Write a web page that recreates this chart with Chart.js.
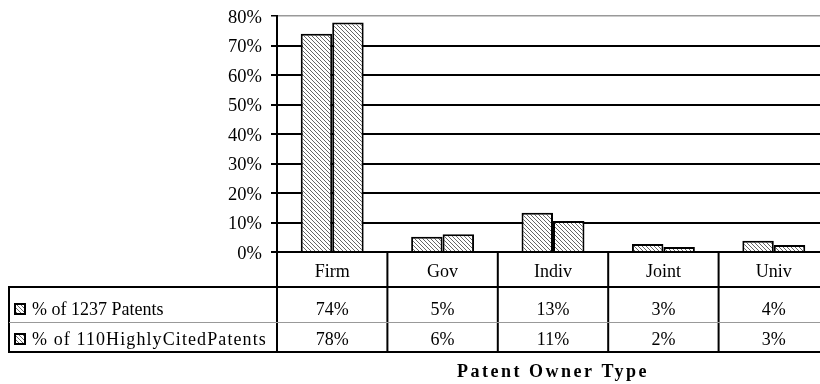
<!DOCTYPE html>
<html lang="en">
<head>
    <meta charset="UTF-8">
    <title>Patent Owner Type</title>
    <script src="https://cdn.jsdelivr.net/npm/chart.js"></script>
    <style>
        html, body { margin: 0; padding: 0; background: #fff; overflow: hidden; }
        #wrap { width: 830px; height: 384px; }
    </style>
</head>
<body>
    <div id="wrap"><canvas id="ownerChart" width="830" height="384"></canvas></div>

    <script>
        // values (percent)
        const categories = ['Firm', 'Gov', 'Indiv', 'Joint', 'Univ'];
        const allPatents = [74.0, 5.2, 13.3, 2.7, 3.8];
        const citedPatents = [77.8, 6.0, 10.5, 1.7, 2.4];
        const allLabels = ['74%', '5%', '13%', '3%', '4%'];
        const citedLabels = ['78%', '6%', '11%', '2%', '3%'];
        const seriesNames = ['% of 1237 Patents', '% of 110HighlyCitedPatents'];
        const axisTitle = 'Patent Owner Type';

        const serif = '"Liberation Serif", "DejaVu Serif", serif';

        function makeHatch() {
            const c = document.createElement('canvas');
            c.width = 4; c.height = 4;
            const g = c.getContext('2d');
            g.fillStyle = '#fff';
            g.fillRect(0, 0, 4, 4);
            g.strokeStyle = '#555';
            g.lineWidth = 0.9;
            g.beginPath();
            g.moveTo(-1, -1); g.lineTo(5, 5);
            g.moveTo(-1, 3); g.lineTo(1, 5);
            g.moveTo(3, -1); g.lineTo(5, 1);
            g.stroke();
            return g.createPattern(c, 'repeat');
        }
        const hatch = makeHatch();

        // data table under the plot, drawn from the x scale
        const dataTable = {
            id: 'dataTable',
            afterDraw(chart) {
                const ctx = chart.ctx;
                const area = chart.chartArea;
                const x = chart.scales.x;
                const catW = (area.right - area.left) / categories.length;
                const top = area.bottom;
                const row1 = top + 35, row2 = top + 70, bottom = top + 100;
                const tableLeft = 9;

                ctx.save();
                ctx.strokeStyle = '#000';
                ctx.lineWidth = 2;
                ctx.beginPath();
                for (let i = 0; i <= categories.length; i++) {
                    const lx = area.left + i * catW;
                    ctx.moveTo(lx, top); ctx.lineTo(lx, bottom);
                }
                ctx.moveTo(tableLeft, row1 - 1); ctx.lineTo(tableLeft, bottom + 1);
                ctx.moveTo(tableLeft, row1); ctx.lineTo(area.right, row1);
                ctx.moveTo(tableLeft, bottom); ctx.lineTo(area.right, bottom);
                ctx.stroke();

                ctx.strokeStyle = '#999';
                ctx.lineWidth = 1;
                ctx.beginPath();
                ctx.moveTo(tableLeft, row2 + 0.5); ctx.lineTo(area.right, row2 + 0.5);
                ctx.stroke();

                ctx.fillStyle = '#000';
                ctx.font = '18px ' + serif;
                ctx.textAlign = 'center';
                ctx.textBaseline = 'alphabetic';
                categories.forEach((cat, i) => {
                    const cx = x.getPixelForValue(i);
                    ctx.fillText(cat, cx, top + 25);
                    ctx.fillText(allLabels[i], cx, row1 + 28);
                    ctx.fillText(citedLabels[i], cx, row2 + 23);
                });

                // legend keys + series names
                ctx.textAlign = 'left';
                [row1 + 28, row2 + 23].forEach((by, k) => {
                    ctx.fillStyle = hatch;
                    ctx.fillRect(15, by - 11, 10, 10);
                    ctx.strokeStyle = '#000';
                    ctx.lineWidth = 2;
                    ctx.strokeRect(15, by - 11, 10, 10);
                    ctx.fillStyle = '#000';
                    ctx.letterSpacing = k === 1 ? '1.1px' : '0px';
                    ctx.fillText(seriesNames[k], 32, by);
                });

                ctx.font = 'bold 18px ' + serif;
                ctx.letterSpacing = '2.5px';
                ctx.textAlign = 'center';
                ctx.fillText(axisTitle, (area.left + area.right) / 2, bottom + 25);
                ctx.restore();
            }
        };

        new Chart(document.getElementById('ownerChart'), {
            type: 'bar',
            data: {
                labels: categories,
                datasets: [
                    { label: seriesNames[0], data: allPatents, backgroundColor: hatch, borderColor: '#000' },
                    { label: seriesNames[1], data: citedPatents, backgroundColor: hatch, borderColor: '#000' }
                ]
            },
            options: {
                responsive: false,
                animation: false,
                devicePixelRatio: 1,
                layout: { padding: { left: 217, top: 16, right: 1, bottom: 132 } },
                datasets: {
                    bar: {
                        borderWidth: 2,
                        borderSkipped: 'bottom',
                        categoryPercentage: 0.57,
                        barPercentage: 1.0
                    }
                },
                plugins: {
                    legend: { display: false },
                    tooltip: { enabled: false }
                },
                scales: {
                    x: { display: false },
                    y: {
                        min: 0,
                        max: 80,
                        afterFit: s => { s.width = 60; s.paddingTop = 0; s.paddingBottom = 0; },
                        ticks: {
                            stepSize: 10,
                            padding: 9,
                            labelOffset: 2,
                            color: '#000',
                            font: { family: serif, size: 18.5 },
                            callback: v => v + '%'
                        },
                        grid: {
                            color: c => c.tick && c.tick.value === 80 ? '#999' : '#000',
                            lineWidth: c => c.tick && c.tick.value === 80 ? 1.5 : 2,
                            tickLength: 6,
                            tickColor: '#000'
                        },
                        border: { color: '#000', width: 2 }
                    }
                }
            },
            plugins: [dataTable]
        });
    </script>
</body>
</html>
